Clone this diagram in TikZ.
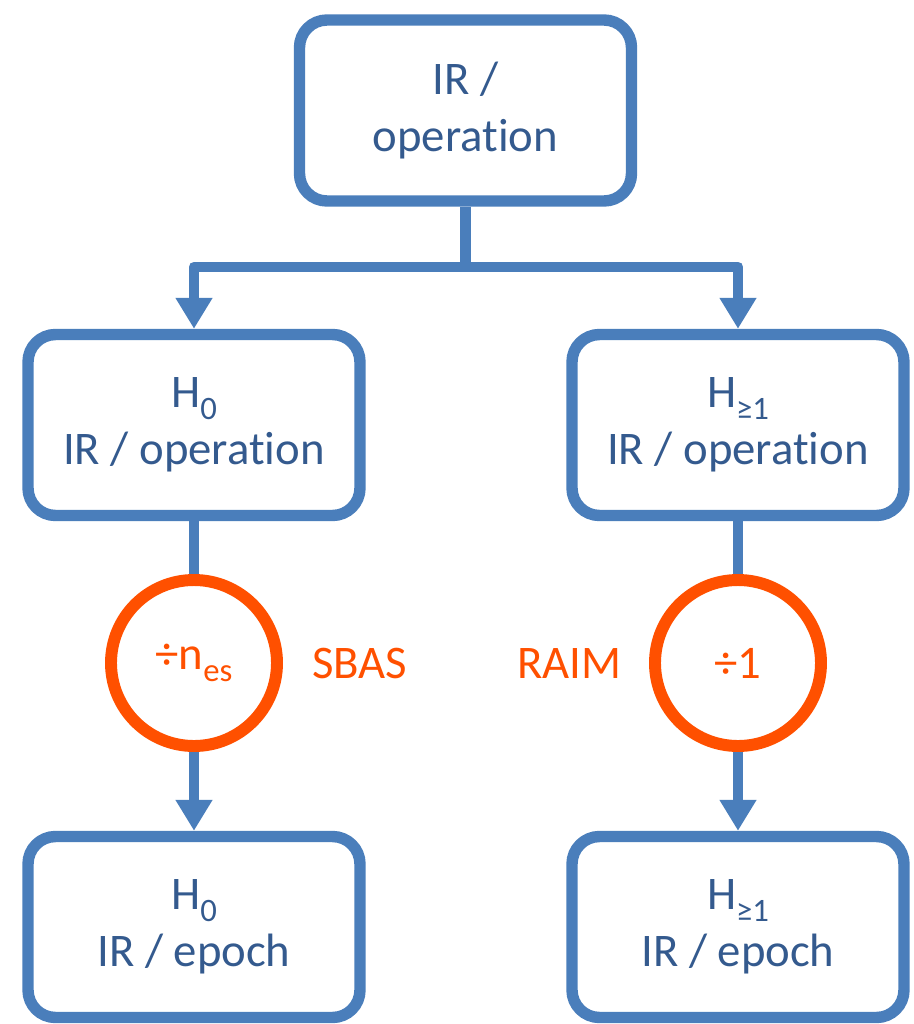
\documentclass[tikz,border=0pt]{standalone}
\usepackage{fontspec}
\setmainfont{Carlito}[Ligatures=NoCommon]
\usepackage{tikz}
\usetikzlibrary{positioning, shapes.geometric, arrows.meta}
\usepackage{xcolor}
\definecolor{boxblue}{RGB}{74,126,187}
\definecolor{textblue}{RGB}{52,90,142}
\definecolor{ratioorange}{RGB}{255,80,0}
\newcommand{\hsub}[1]{\raisebox{-0.26em}{\fontsize{18.6}{20}\selectfont #1}}
\newcommand{\opword}{operat\kern0pt ion}

\begin{document}
\begin{tikzpicture}[
                  every node/.style={font=\fontsize{26.6}{32.5}\selectfont},
                  irbox/.style={rectangle, draw=boxblue, line width=6.5pt, rounded corners=0.55cm, minimum width=6.64cm, minimum height=3.62cm, align=center, text=textblue},
                  ratio/.style={circle, draw=ratioorange, line width=6.8pt, minimum size=3.32cm, inner sep=0pt, text=ratioorange},
                  method/.style={inner sep=0pt, text=ratioorange},
                  line/.style={draw=boxblue, line width=6.2pt, line join=round},
                  arrow/.style={line, -{Triangle[width=0.7cm, length=0.62cm]}}
            ]
            \useasboundingbox (0,0) rectangle (18.28,-20.48);

            % Boxes
            \node (irop) [irbox] at (9.31,-2.21) {IR /\\\opword};
            \node (hzeroop) [irbox] at (3.88,-8.50) {H\hsub{0}\\IR / \opword};
            \node (honeop) [irbox] at (14.76,-8.50) {H\hsub{≥1}\\IR / \opword};
            \node (hzeroep) [irbox] at (3.88,-18.54) {H\hsub{0}\\IR / epoch};
            \node (honeep) [irbox] at (14.76,-18.54) {H\hsub{≥1}\\IR / epoch};

            % Ratios and methods
            \node (sbas) [ratio] at (3.88,-13.26) {÷n\hsub{es}};
            \node (raim) [ratio] at (14.76,-13.26) {÷1};
            \node (sbaslbl) [method, right=0.58cm of sbas] {SBAS};
            \node (raimlbl) [method, left=0.55cm of raim] {RAIM};

            % Arrows
            \coordinate (split) at (9.31,-5.34);
            \draw [line] (irop.south) -- (split);
            \draw [arrow] (split) -| (hzeroop.north);
            \draw [arrow] (split) -| (honeop.north);

            \draw [line] (hzeroop) -- (sbas);
            \draw [arrow] (sbas) -- (hzeroep);
            \draw [line] (honeop) -- (raim);
            \draw [arrow] (raim) -- (honeep);

      \end{tikzpicture}
\end{document}
